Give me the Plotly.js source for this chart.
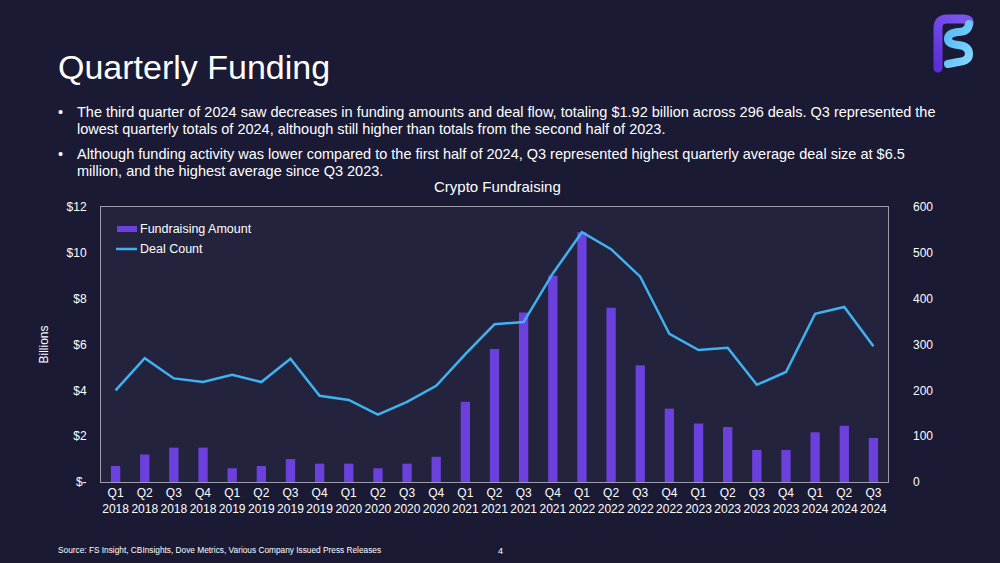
<!DOCTYPE html>
<html>
<head>
<meta charset="utf-8">
<script src="https://cdn.plot.ly/plotly-3.0.1.min.js"></script>
<style>
  html, body { margin: 0; padding: 0; background: #1b1a35; }
  #chart { width: 1000px; height: 563px; position: absolute; left: 0; top: 0; }
  #logo { position: absolute; left: 928px; top: 10px; width: 50px; height: 66px; }
</style>
</head>
<body>
<div id="chart"></div>
<svg id="logo" viewBox="0 0 50 66">
  <defs>
    <linearGradient id="gp" x1="0" y1="1" x2="0.6" y2="0">
      <stop offset="0" stop-color="#5a2fd6"/>
      <stop offset="1" stop-color="#7a52f0"/>
    </linearGradient>
    <linearGradient id="gb" x1="0" y1="0" x2="1" y2="1">
      <stop offset="0" stop-color="#58b8f5"/>
      <stop offset="1" stop-color="#7fd6ff"/>
    </linearGradient>
  </defs>
  <path d="M10 58 L10 18 Q10 9 19 9 L36 9 Q42 9 41 14" fill="none" stroke="url(#gp)" stroke-width="9" stroke-linecap="round" stroke-linejoin="round"/>
  <path d="M41 14 Q40 22 30 22 Q20 23 20 29 Q20 34 30 35 Q41 36 41 44 Q41 51 30 52 L20 54" fill="none" stroke="url(#gb)" stroke-width="8" stroke-linecap="round" stroke-linejoin="round"/>
</svg>
<script>
const quarters = ["Q1","Q2","Q3","Q4","Q1","Q2","Q3","Q4","Q1","Q2","Q3","Q4","Q1","Q2","Q3","Q4","Q1","Q2","Q3","Q4","Q1","Q2","Q3","Q4","Q1","Q2","Q3"];
const years = ["2018","2018","2018","2018","2019","2019","2019","2019","2020","2020","2020","2020","2021","2021","2021","2021","2022","2022","2022","2022","2023","2023","2023","2023","2024","2024","2024"];
const fundraisingAmount = [0.7,1.2,1.5,1.5,0.6,0.7,1.0,0.8,0.8,0.6,0.8,1.1,3.5,5.8,7.4,9.0,10.9,7.6,5.1,3.2,2.55,2.4,1.4,1.4,2.17,2.45,1.92];
const dealCount = [200,270,226,218,234,218,269,188,179,147,175,210,279,344,349,455,545,508,448,323,288,293,212,240,367,382,296];
const leftTickVals = [0,2,4,6,8,10,12];
const leftTickText = ["$-","$2","$4","$6","$8","$10","$12"];
const rightTickVals = [0,100,200,300,400,500,600];
const seriesNames = ["Fundraising Amount", "Deal Count"];

const categories = quarters.map((q, i) => q + "<br>" + years[i]);

const font = "Liberation Sans, Arial, sans-serif";
const white = "#ffffff";
const barColor = "#6b40dc";
const lineColor = "#3fb2f2";

const traces = [
  {
    type: "bar",
    name: seriesNames[0],
    x: categories,
    y: fundraisingAmount,
    marker: { color: barColor },
    yaxis: "y",
    hoverinfo: "skip",
    showlegend: false
  },
  {
    type: "scatter",
    mode: "lines",
    name: seriesNames[1],
    x: categories,
    y: dealCount,
    line: { color: lineColor, width: 2.5 },
    yaxis: "y2",
    hoverinfo: "skip",
    showlegend: false
  }
];

const bulletLines = [
  { y: 112, text: "The third quarter of 2024 saw decreases in funding amounts and deal flow, totaling $1.92 billion across 296 deals. Q3 represented the", bullet: true },
  { y: 129, text: "lowest quarterly totals of 2024, although still higher than totals from the second half of 2023.", bullet: false },
  { y: 154, text: "Although funding activity was lower compared to the first half of 2024, Q3 represented highest quarterly average deal size at $6.5", bullet: true },
  { y: 171, text: "million, and the highest average since Q3 2023.", bullet: false }
];

const annotations = [
  { text: "Quarterly Funding", x: 56, y: 67, showarrow: false, xanchor: "left", yanchor: "middle", font: { family: font, size: 34, color: white } },
  { text: "Crypto Fundraising", x: 497, y: 186, showarrow: false, xanchor: "center", yanchor: "middle", font: { family: font, size: 15, color: white } },
  { text: "Source: FS Insight, CBInsights, Dove Metrics, Various Company Issued Press Releases", x: 56, y: 550, showarrow: false, xanchor: "left", yanchor: "middle", font: { family: font, size: 8.3, color: white } },
  { text: "4", x: 500, y: 551, showarrow: false, xanchor: "center", yanchor: "middle", font: { family: font, size: 9, color: white } },
  { text: seriesNames[0], x: 138, y: 229, showarrow: false, xanchor: "left", yanchor: "middle", font: { family: font, size: 12.5, color: white } },
  { text: seriesNames[1], x: 138, y: 249, showarrow: false, xanchor: "left", yanchor: "middle", font: { family: font, size: 12.5, color: white } }
];
bulletLines.forEach(l => {
  if (l.bullet) annotations.push({ text: "•", x: 56, y: l.y, showarrow: false, xanchor: "left", yanchor: "middle", font: { family: font, size: 14.5, color: white } });
  annotations.push({ text: l.text, x: 75, y: l.y, showarrow: false, xanchor: "left", yanchor: "middle", font: { family: font, size: 14.5, color: white } });
});
// convert pixel positions to paper coords
const W = 1000, H = 563, mL = 101, mR = 112, mT = 207, mB = 81;
const pw = W - mL - mR, ph = H - mT - mB;
const px = v => (v - mL) / pw;
const py = v => (H - mB - v) / ph;
annotations.forEach(a => {
  a.xref = "paper"; a.yref = "paper";
  a.x = px(a.x);
  a.y = py(a.y);
});

// legend swatches (drawn as shapes)
const shapes = [
  { type: "rect", xref: "paper", yref: "paper", x0: px(117), x1: px(137), y0: py(232), y1: py(226), fillcolor: barColor, line: { width: 0 } },
  { type: "line", xref: "paper", yref: "paper", x0: px(116), x1: px(137), y0: py(249), y1: py(249), line: { color: lineColor, width: 2.5 } }
];

const layout = {
  width: W, height: H,
  margin: { l: mL, r: mR, t: mT, b: mB, pad: 0 },
  paper_bgcolor: "#1b1a35",
  plot_bgcolor: "#24233d",
  font: { family: font, color: white, size: 12 },
  showlegend: false,
  bargap: 0.68,
  xaxis: {
    type: "category",
    range: [-0.5, 26.5],
    showline: true, mirror: true, linecolor: "#9c9cab", linewidth: 1,
    showgrid: false, zeroline: false, ticks: "",
    tickfont: { family: font, size: 12, color: white },
    fixedrange: true
  },
  yaxis: {
    range: [0, 12],
    tickvals: leftTickVals, ticktext: leftTickText,
    showline: true, mirror: true, linecolor: "#9c9cab", linewidth: 1,
    showgrid: false, zeroline: false, ticks: "",
    tickfont: { family: font, size: 12, color: white },
    ticklabelstandoff: 11,
    title: { text: "Billions", font: { family: font, size: 12, color: white }, standoff: 15 },
    fixedrange: true
  },
  yaxis2: {
    range: [0, 600],
    tickvals: rightTickVals,
    overlaying: "y", side: "right",
    showgrid: false, zeroline: false, showline: false, ticks: "",
    tickfont: { family: font, size: 12, color: white },
    ticklabelstandoff: 24,
    fixedrange: true
  },
  shapes: shapes,
  annotations: annotations
};

Plotly.newPlot("chart", traces, layout, { displayModeBar: false, staticPlot: true });
</script>
</body>
</html>
